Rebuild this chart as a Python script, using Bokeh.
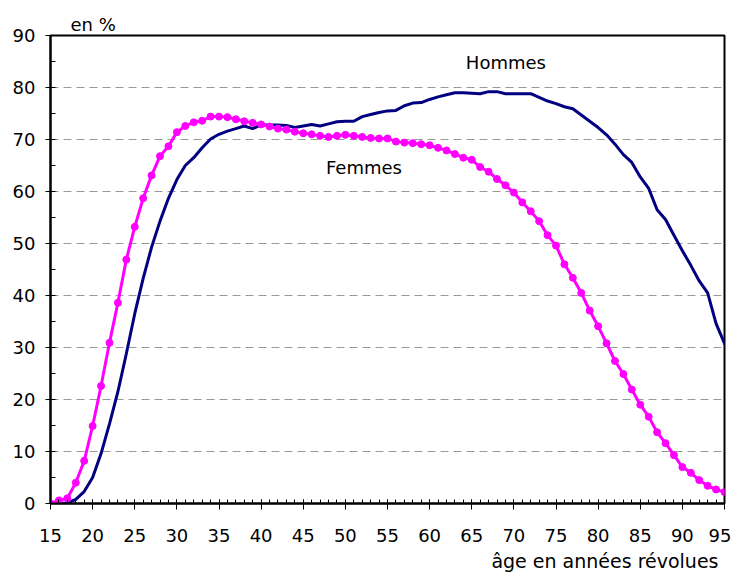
from bokeh.plotting import figure
from bokeh.models import SingleIntervalTicker, Label, Range1d, Title
from bokeh.embed import file_html
from bokeh.resources import INLINE

ages = list(range(15, 97))

femmes = [0.0, 0.6, 1.0, 4.0, 8.2, 14.9, 22.6, 30.9, 38.6, 46.9,
          53.2, 58.7, 63.1, 66.8, 68.7, 71.4, 72.6, 73.3, 73.6, 74.4,
          74.4, 74.3, 73.9, 73.5, 73.2, 72.9, 72.5, 72.1, 71.9, 71.5,
          71.2, 71.0, 70.7, 70.5, 70.7, 70.9, 70.7, 70.5, 70.3, 70.2,
          70.2, 69.6, 69.4, 69.3, 69.1, 68.9, 68.4, 67.9, 67.2, 66.5,
          66.1, 64.7, 63.8, 62.4, 61.2, 59.8, 57.9, 56.2, 54.3, 51.6,
          49.6, 46.0, 43.4, 40.5, 37.1, 34.1, 30.8, 27.4, 24.9, 21.9,
          19.0, 16.7, 13.7, 11.6, 9.3, 7.0, 5.9, 4.5, 3.4, 2.7,
          2.2, 1.8]

hommes = [0.0, 0.0, 0.1, 0.8, 2.3, 5.0, 9.6, 15.3, 21.5, 28.8,
          36.5, 43.3, 49.3, 54.3, 58.7, 62.3, 65.0, 66.5, 68.4, 70.1,
          71.0, 71.6, 72.1, 72.6, 72.1, 72.8, 72.8, 72.8, 72.7, 72.3,
          72.6, 72.9, 72.6, 73.0, 73.4, 73.5, 73.5, 74.4, 74.8, 75.2,
          75.5, 75.6, 76.5, 77.0, 77.1, 77.7, 78.2, 78.6, 79.0, 79.0,
          78.9, 78.8, 79.2, 79.2, 78.8, 78.8, 78.8, 78.8, 78.1, 77.4,
          76.9, 76.3, 75.9, 74.7, 73.5, 72.3, 70.9, 69.1, 67.1, 65.6,
          62.8, 60.6, 56.5, 54.6, 51.6, 48.6, 45.8, 42.8, 40.5, 34.6,
          30.8, 27.4]

FONT = "DejaVu Sans"

p = figure(width=731, height=574, output_backend="svg", toolbar_location=None,
           x_range=Range1d(15, 95), y_range=Range1d(0, 90),
           min_border_left=50, min_border_right=7, min_border_top=35,
           min_border_bottom=69)

p.background_fill_color = "white"
p.border_fill_color = "white"
p.outline_line_color = "black"
p.outline_line_width = 2

p.xgrid.visible = False
p.ygrid.grid_line_color = "#999999"
p.ygrid.grid_line_width = 1
p.ygrid.grid_line_dash = "8 5"

p.xaxis.ticker = SingleIntervalTicker(interval=5, num_minor_ticks=5)
p.yaxis.ticker = SingleIntervalTicker(interval=10, num_minor_ticks=2)

for ax in (p.xaxis, p.yaxis):
    ax.axis_line_color = "black"
    ax.axis_line_width = 2
    ax.major_tick_line_color = "black"
    ax.minor_tick_line_color = "black"
    ax.major_tick_line_width = 1
    ax.minor_tick_line_width = 1
    ax.major_label_text_font = FONT
    ax.major_label_text_font_size = "18px"
    ax.major_label_text_color = "black"

p.xaxis.major_tick_in = 4
p.xaxis.major_tick_out = 6
p.xaxis.minor_tick_in = 4
p.xaxis.minor_tick_out = 0
p.xaxis.major_label_standoff = 19

p.yaxis.major_tick_in = 0
p.yaxis.major_tick_out = 5
p.yaxis.minor_tick_in = 5
p.yaxis.minor_tick_out = 0
p.yaxis.major_label_standoff = 10

p.line(ages, hommes, line_color="#000080", line_width=3)
p.line(ages, femmes, line_color="#FF00FF", line_width=3)
p.scatter(ages, femmes, size=7, fill_color="#FF00FF", line_color="#FF00FF")

p.add_layout(Label(x=64.3, y=84.8, text="Hommes", text_font=FONT,
                   text_font_size="18px", text_baseline="middle", text_color="black"))
p.add_layout(Label(x=47.7, y=64.7, text="Femmes", text_font=FONT,
                   text_font_size="18px", text_baseline="middle", text_color="black"))

p.add_layout(Title(text="en %", align="left", offset=20, standoff=2,
                   text_font=FONT, text_font_size="18px",
                   text_font_style="normal", text_color="black"), "above")
p.add_layout(Title(text="âge en années révolues", align="right", offset=6,
                   standoff=6, text_font=FONT, text_font_size="19px",
                   text_font_style="normal", text_color="black"), "below")

open("out.html", "w").write(file_html(p, INLINE))
